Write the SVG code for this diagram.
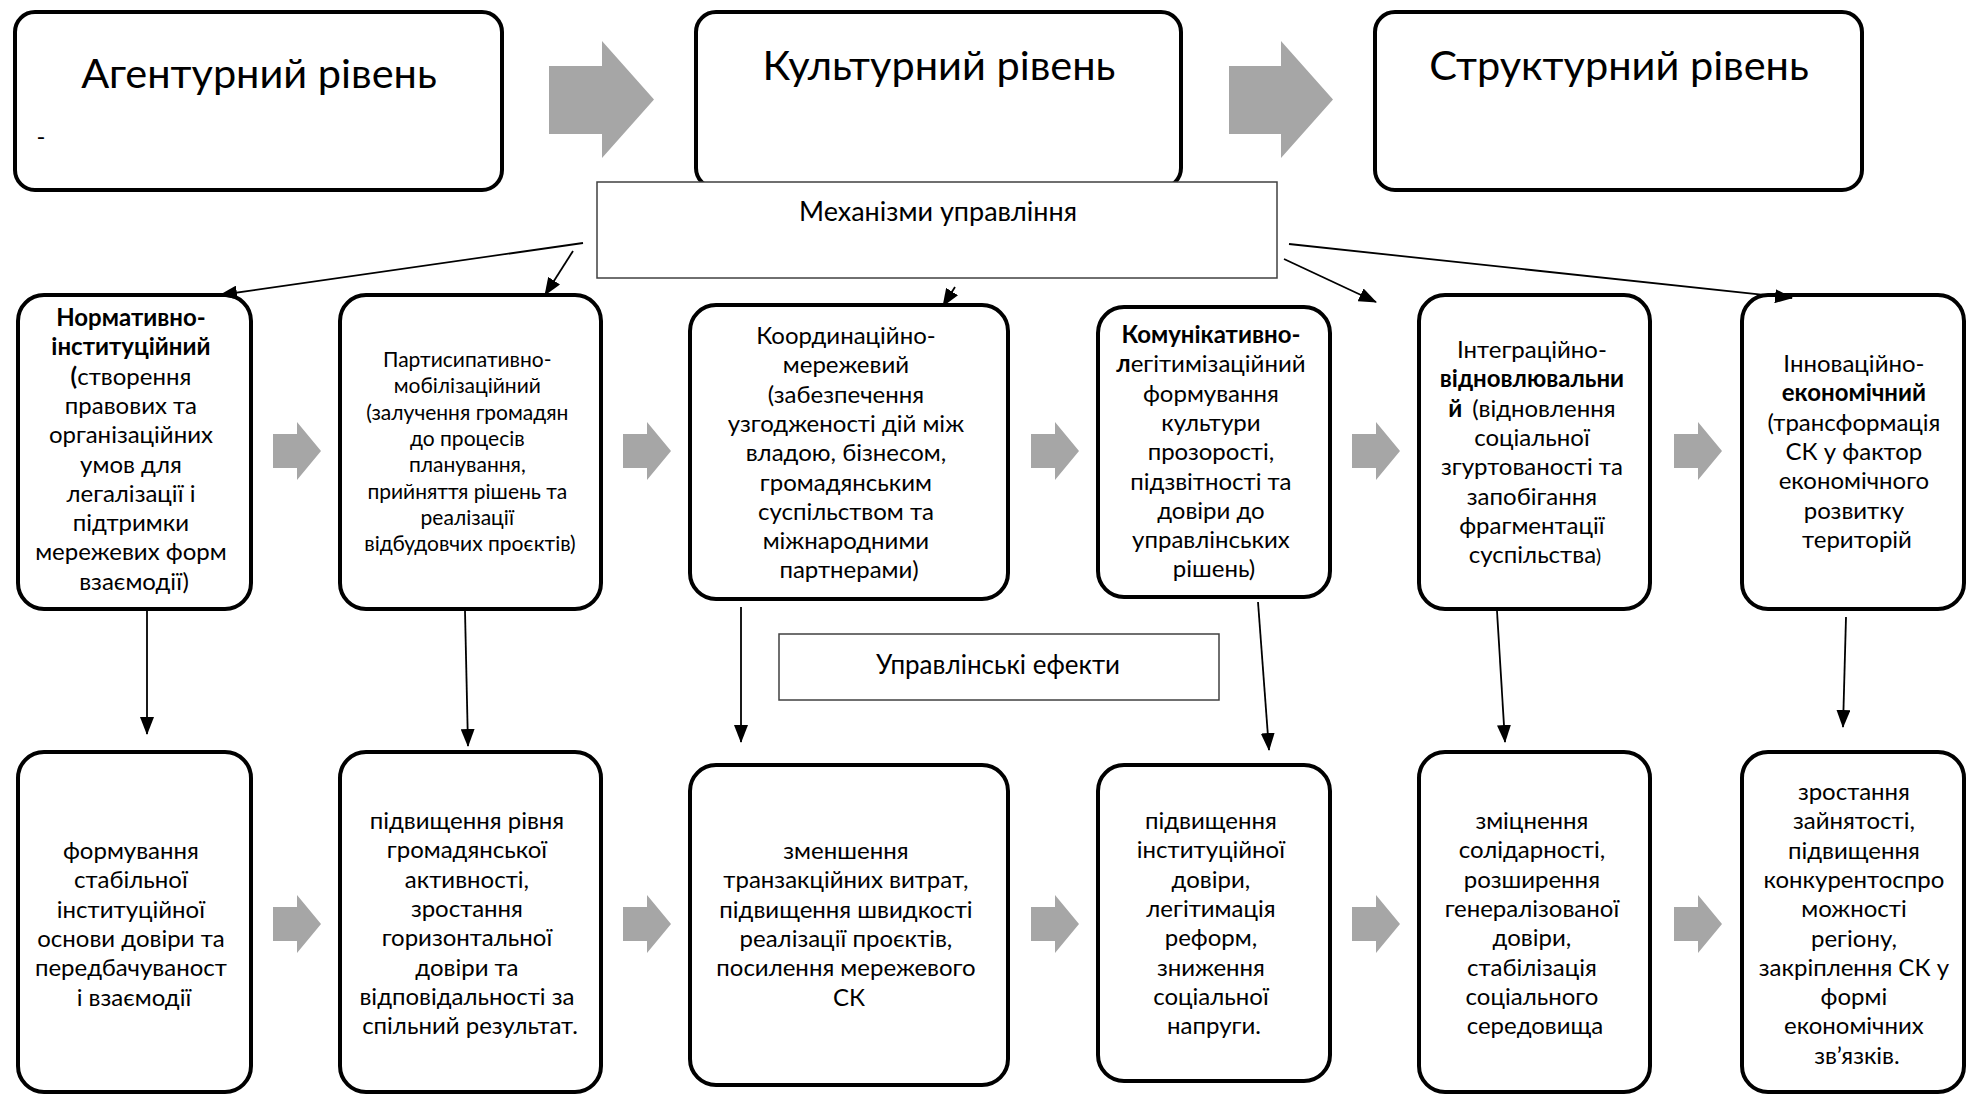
<svg xmlns="http://www.w3.org/2000/svg" width="1966" height="1095" viewBox="0 0 1966 1095">
<style>
.box{fill:#fff;stroke:#000;stroke-width:4}
.thin{fill:#fff;stroke:#404040;stroke-width:1.5}
.t{font-family:Lato,'Liberation Sans',sans-serif;font-size:24px;text-anchor:middle;fill:#000}
.s{font-size:21px}
.title{font-size:41.5px}
.b{font-weight:bold}
.conn{stroke:#000;stroke-width:1.8;fill:none;marker-end:url(#ah)}
.ga{fill:#A6A6A6}
</style>
<defs>
<marker id="ah" markerUnits="userSpaceOnUse" markerWidth="18" markerHeight="14" refX="17" refY="7" orient="auto">
<path d="M0,0 L18,7 L0,14 Z" fill="#000"/>
</marker>
<path id="sa" d="M0,-17 H24 V-29 L48,0 L24,29 V17 H0 Z"/>
</defs>
<rect width="1966" height="1095" fill="#fff"/>

<!-- big gray arrows -->
<g id="bigarrows" class="ga">
<path d="M549,66 H602 V41 L654,99.5 L602,158 V134 H549 Z"/>
<path d="M1229,66 H1281 V41 L1333,99.5 L1281,158 V134 H1229 Z"/>
</g>

<!-- small gray arrows -->
<g id="smallarrows" class="ga">
<use href="#sa" x="273" y="451"/>
<use href="#sa" x="623" y="451"/>
<use href="#sa" x="1031" y="451"/>
<use href="#sa" x="1352" y="451"/>
<use href="#sa" x="1674" y="451"/>
<use href="#sa" x="273" y="924"/>
<use href="#sa" x="623" y="924"/>
<use href="#sa" x="1031" y="924"/>
<use href="#sa" x="1352" y="924"/>
<use href="#sa" x="1674" y="924"/>
</g>

<!-- top level boxes -->
<g id="agent">
<rect class="box" x="15" y="12" width="487" height="178" rx="20"/>
<text class="t title" x="259" y="88">Агентурний рівень</text>
<text class="t" x="41" y="145">-</text>
</g>
<g id="cultural">
<rect class="box" x="696" y="12" width="485" height="176" rx="20"/>
<text class="t title" x="939" y="80">Культурний рівень</text>
</g>
<g id="structural">
<rect class="box" x="1375" y="12" width="487" height="178" rx="20"/>
<text class="t title" x="1619" y="80">Структурний рівень</text>
</g>

<g id="mechanisms">
<rect class="thin" x="597" y="182" width="680" height="96"/>
<text class="t" style="font-size:27px" x="938" y="221">Механізми управління</text>
</g>

<g id="effects">
<rect class="thin" x="779" y="634" width="440" height="66"/>
<text class="t" style="font-size:26px" x="998" y="674">Управлінські ефекти</text>
</g>

<!-- row 2: mechanisms -->
<g id="m1">
<rect class="box" x="18" y="295" width="233" height="314" rx="26"/>
<text class="t">
<tspan class="b" x="134" y="326">Нормативно-</tspan>
<tspan class="b" x="134" y="355.3">інституційний</tspan>
<tspan x="134" y="384.6"><tspan class="b">(</tspan>створення</tspan>
<tspan x="134" y="413.9">правових та</tspan>
<tspan x="134" y="443.2">організаційних</tspan>
<tspan x="134" y="472.5">умов для</tspan>
<tspan x="134" y="501.8">легалізації і</tspan>
<tspan x="134" y="531.1">підтримки</tspan>
<tspan x="134" y="560.4">мережевих форм</tspan>
<tspan x="134" y="589.7">взаємодії)</tspan>
</text>
</g>
<g id="m2">
<rect class="box" x="340" y="295" width="261" height="314" rx="26"/>
<text class="t s">
<tspan x="470" y="367">Партисипативно-</tspan>
<tspan x="470" y="393.3">мобілізаційний</tspan>
<tspan x="470" y="419.6">(залучення громадян</tspan>
<tspan x="470" y="445.9">до процесів</tspan>
<tspan x="470" y="472.2">планування,</tspan>
<tspan x="470" y="498.5">прийняття рішень та</tspan>
<tspan x="470" y="524.8">реалізації</tspan>
<tspan x="470" y="551.1">відбудовчих проєктів)</tspan>
</text>
</g>
<g id="m3">
<rect class="box" x="690" y="305" width="318" height="294" rx="26"/>
<text class="t">
<tspan x="849" y="344">Координаційно-</tspan>
<tspan x="849" y="373.3">мережевий</tspan>
<tspan x="849" y="402.6">(забезпечення</tspan>
<tspan x="849" y="431.9">узгодженості дій між</tspan>
<tspan x="849" y="461.2">владою, бізнесом,</tspan>
<tspan x="849" y="490.5">громадянським</tspan>
<tspan x="849" y="519.8">суспільством та</tspan>
<tspan x="849" y="549.1">міжнародними</tspan>
<tspan x="849" y="578.4">партнерами)</tspan>
</text>
</g>
<g id="m4">
<rect class="box" x="1098" y="307" width="232" height="290" rx="26"/>
<text class="t">
<tspan class="b" x="1214" y="343">Комунікативно-</tspan>
<tspan x="1214" y="372.3"><tspan class="b">л</tspan>егітимізаційний</tspan>
<tspan x="1214" y="401.6">формування</tspan>
<tspan x="1214" y="430.9">культури</tspan>
<tspan x="1214" y="460.2">прозорості,</tspan>
<tspan x="1214" y="489.5">підзвітності та</tspan>
<tspan x="1214" y="518.8">довіри до</tspan>
<tspan x="1214" y="548.1">управлінських</tspan>
<tspan x="1214" y="577.4">рішень)</tspan>
</text>
</g>
<g id="m5">
<rect class="box" x="1419" y="295" width="231" height="314" rx="26"/>
<text class="t">
<tspan x="1535" y="358">Інтеграційно-</tspan>
<tspan class="b" x="1535" y="387.3">відновлювальни</tspan>
<tspan x="1535" y="416.6"><tspan class="b">й</tspan><tspan dx="10">(відновлення</tspan></tspan>
<tspan x="1535" y="445.9">соціальної</tspan>
<tspan x="1535" y="475.2">згуртованості та</tspan>
<tspan x="1535" y="504.5">запобігання</tspan>
<tspan x="1535" y="533.8">фрагментації</tspan>
<tspan x="1535" y="563.1">суспільства<tspan style="font-size:19px">)</tspan></tspan>
</text>
</g>
<g id="m6">
<rect class="box" x="1742" y="295" width="222" height="314" rx="26"/>
<text class="t">
<tspan x="1857" y="372">Інноваційно-</tspan>
<tspan class="b" x="1857" y="401.3">економічний</tspan>
<tspan x="1857" y="430.6">(трансформація</tspan>
<tspan x="1857" y="459.9">СК у фактор</tspan>
<tspan x="1857" y="489.2">економічного</tspan>
<tspan x="1857" y="518.5">розвитку</tspan>
<tspan x="1857" y="547.8">територій</tspan>
</text>
</g>

<!-- row 3: effects -->
<g id="e1">
<rect class="box" x="18" y="752" width="233" height="340" rx="26"/>
<text class="t">
<tspan x="134" y="859">формування</tspan>
<tspan x="134" y="888.3">стабільної</tspan>
<tspan x="134" y="917.6">інституційної</tspan>
<tspan x="134" y="946.9">основи довіри та</tspan>
<tspan x="134" y="976.2">передбачуваност</tspan>
<tspan x="134" y="1005.5">і взаємодії</tspan>
</text>
</g>
<g id="e2">
<rect class="box" x="340" y="752" width="261" height="340" rx="26"/>
<text class="t">
<tspan x="470" y="829">підвищення рівня</tspan>
<tspan x="470" y="858.3">громадянської</tspan>
<tspan x="470" y="887.6">активності,</tspan>
<tspan x="470" y="916.9">зростання</tspan>
<tspan x="470" y="946.2">горизонтальної</tspan>
<tspan x="470" y="975.5">довіри та</tspan>
<tspan x="470" y="1004.8">відповідальності за</tspan>
<tspan x="470" y="1034.1">спільний результат.</tspan>
</text>
</g>
<g id="e3">
<rect class="box" x="690" y="765" width="318" height="320" rx="26"/>
<text class="t">
<tspan x="849" y="859">зменшення</tspan>
<tspan x="849" y="888.3">транзакційних витрат,</tspan>
<tspan x="849" y="917.6">підвищення швидкості</tspan>
<tspan x="849" y="946.9">реалізації проєктів,</tspan>
<tspan x="849" y="976.2">посилення мережевого</tspan>
<tspan x="849" y="1005.5">СК</tspan>
</text>
</g>
<g id="e4">
<rect class="box" x="1098" y="765" width="232" height="316" rx="26"/>
<text class="t">
<tspan x="1214" y="829">підвищення</tspan>
<tspan x="1214" y="858.3">інституційної</tspan>
<tspan x="1214" y="887.6">довіри,</tspan>
<tspan x="1214" y="916.9">легітимація</tspan>
<tspan x="1214" y="946.2">реформ,</tspan>
<tspan x="1214" y="975.5">зниження</tspan>
<tspan x="1214" y="1004.8">соціальної</tspan>
<tspan x="1214" y="1034.1">напруги.</tspan>
</text>
</g>
<g id="e5">
<rect class="box" x="1419" y="752" width="231" height="340" rx="26"/>
<text class="t">
<tspan x="1535" y="829">зміцнення</tspan>
<tspan x="1535" y="858.3">солідарності,</tspan>
<tspan x="1535" y="887.6">розширення</tspan>
<tspan x="1535" y="916.9">генералізованої</tspan>
<tspan x="1535" y="946.2">довіри,</tspan>
<tspan x="1535" y="975.5">стабілізація</tspan>
<tspan x="1535" y="1004.8">соціального</tspan>
<tspan x="1535" y="1034.1">середовища</tspan>
</text>
</g>
<g id="e6">
<rect class="box" x="1742" y="752" width="222" height="340" rx="26"/>
<text class="t">
<tspan x="1857" y="800">зростання</tspan>
<tspan x="1857" y="829.3">зайнятості,</tspan>
<tspan x="1857" y="858.6">підвищення</tspan>
<tspan x="1857" y="887.9">конкурентоспро</tspan>
<tspan x="1857" y="917.2">можності</tspan>
<tspan x="1857" y="946.5">регіону,</tspan>
<tspan x="1857" y="975.8">закріплення СК у</tspan>
<tspan x="1857" y="1005.1">формі</tspan>
<tspan x="1857" y="1034.4">економічних</tspan>
<tspan x="1857" y="1063.7">зв’язків.</tspan>
</text>
</g>

<!-- connectors -->
<g id="connectors">
<line class="conn" x1="583" y1="243" x2="220" y2="295"/>
<line class="conn" x1="573" y1="251" x2="545" y2="295"/>
<line class="conn" x1="955" y1="287" x2="943" y2="306"/>
<line class="conn" x1="1284" y1="259" x2="1376" y2="302"/>
<line class="conn" x1="1289" y1="244" x2="1792" y2="298"/>
<line class="conn" x1="147" y1="611" x2="147" y2="734"/>
<line class="conn" x1="465" y1="611" x2="468" y2="746"/>
<line class="conn" x1="741" y1="607" x2="741" y2="742"/>
<line class="conn" x1="1258" y1="602" x2="1269" y2="750"/>
<line class="conn" x1="1497" y1="611" x2="1505" y2="742"/>
<line class="conn" x1="1846" y1="617" x2="1843" y2="727"/>
</g>
</svg>
